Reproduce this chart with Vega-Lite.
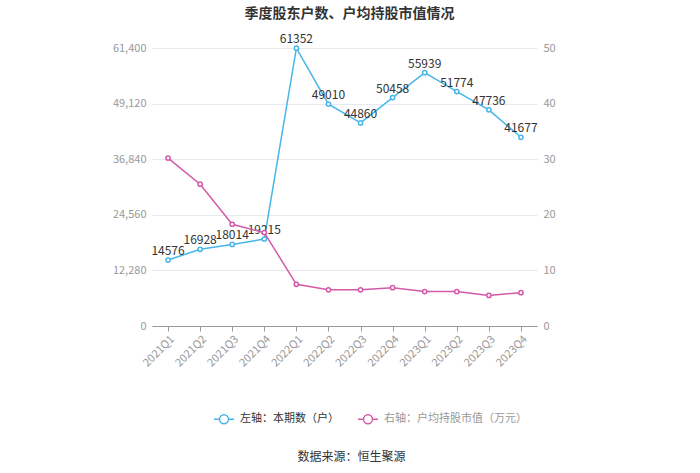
{
  "$schema": "https://vega.github.io/schema/vega-lite/v6.json",
  "width": 385,
  "height": 278,
  "autosize": {"type": "none"},
  "padding": {"left": 152, "top": 48, "right": 163, "bottom": 147},
  "background": "white",
  "title": {"text": "季度股东户数、户均持股市值情况", "fontSize": 14, "fontWeight": "bold", "color": "#333", "offset": 12, "dx": 5},
  "config": {"font": "Noto Sans CJK SC", "view": {"stroke": null}},
  "data": {"values": [
    {"q": "2021Q1", "hs": 14576, "v": 30.2},
    {"q": "2021Q2", "hs": 16928, "v": 25.5},
    {"q": "2021Q3", "hs": 18014, "v": 18.3},
    {"q": "2021Q4", "hs": 19215, "v": 16.8},
    {"q": "2022Q1", "hs": 61352, "v": 7.5},
    {"q": "2022Q2", "hs": 49010, "v": 6.5},
    {"q": "2022Q3", "hs": 44860, "v": 6.5},
    {"q": "2022Q4", "hs": 50458, "v": 6.9},
    {"q": "2023Q1", "hs": 55939, "v": 6.2},
    {"q": "2023Q2", "hs": 51774, "v": 6.2},
    {"q": "2023Q3", "hs": 47736, "v": 5.5},
    {"q": "2023Q4", "hs": 41677, "v": 6.0}
  ]},
  "encoding": {
    "x": {
      "field": "q", "type": "ordinal", "sort": null,
      "scale": {"type": "point", "padding": 0.5},
      "axis": {
        "labelAngle": -45, "labelAlign": "right", "labelBaseline": "top",
        "labelColor": "#999", "labelFontSize": 11, "labelPadding": 2,
        "domainColor": "#999", "tickColor": "#999", "tickSize": 5, "grid": false,
        "title": "数据来源：恒生聚源", "titleFontSize": 12, "titleColor": "#333",
        "titleFontWeight": "normal", "titlePadding": 83, "titleX": 199
      }
    }
  },
  "layer": [
    {
      "mark": {"type": "line", "strokeWidth": 1.5, "point": {"filled": false, "fill": "white", "size": 18, "strokeWidth": 1.5}},
      "encoding": {
        "y": {
          "field": "hs", "type": "quantitative",
          "scale": {"domain": [0, 61400], "nice": false, "zero": true},
          "axis": {
            "orient": "left", "values": [0, 12280, 24560, 36840, 49120, 61400], "format": ",.0f",
            "labelColor": "#999", "labelFontSize": 11, "domain": false, "ticks": false,
            "gridColor": "#e6e9ef", "title": null, "labelPadding": 6
          }
        },
        "color": {
          "datum": "左轴：本期数（户）",
          "scale": {"domain": ["左轴：本期数（户）", "右轴：户均持股市值（万元）"], "range": ["#47b6ea", "#d35aa9"]},
          "legend": {
            "orient": "none", "legendX": 61, "legendY": 360, "direction": "horizontal", "title": null,
            "labelFontSize": 11, "labelColor": "#333", "labelOffset": 5, "columnPadding": 16,
            "symbolType": "M -1 0 L -0.45 0 M 0.45 0 L 1 0 M -0.45 0 A 0.45 0.45 0 1 0 0.45 0 A 0.45 0.45 0 1 0 -0.45 0",
            "symbolSize": 400, "symbolStrokeWidth": 1.5, "symbolFillColor": "white",
            "encode": {"labels": {"update": {"fill": {"signal": "datum.label == '左轴：本期数（户）' ? '#333' : '#999'"}}}}
          }
        }
      }
    },
    {
      "mark": {"type": "text", "dy": -9, "fontSize": 12, "color": "#333"},
      "encoding": {
        "y": {"field": "hs", "type": "quantitative", "scale": {"domain": [0, 61400], "nice": false, "zero": true}, "axis": null},
        "text": {"field": "hs", "type": "nominal"}
      }
    },
    {
      "mark": {"type": "line", "strokeWidth": 1.5, "point": {"filled": false, "fill": "white", "size": 18, "strokeWidth": 1.5}},
      "encoding": {
        "y": {
          "field": "v", "type": "quantitative",
          "scale": {"domain": [0, 50], "nice": false},
          "axis": {
            "orient": "right", "values": [0, 10, 20, 30, 40, 50],
            "labelColor": "#999", "labelFontSize": 11, "domain": false, "ticks": false,
            "grid": false, "title": null, "labelPadding": 6
          }
        },
        "color": {"datum": "右轴：户均持股市值（万元）"}
      }
    }
  ],
  "resolve": {"scale": {"y": "independent"}}
}
